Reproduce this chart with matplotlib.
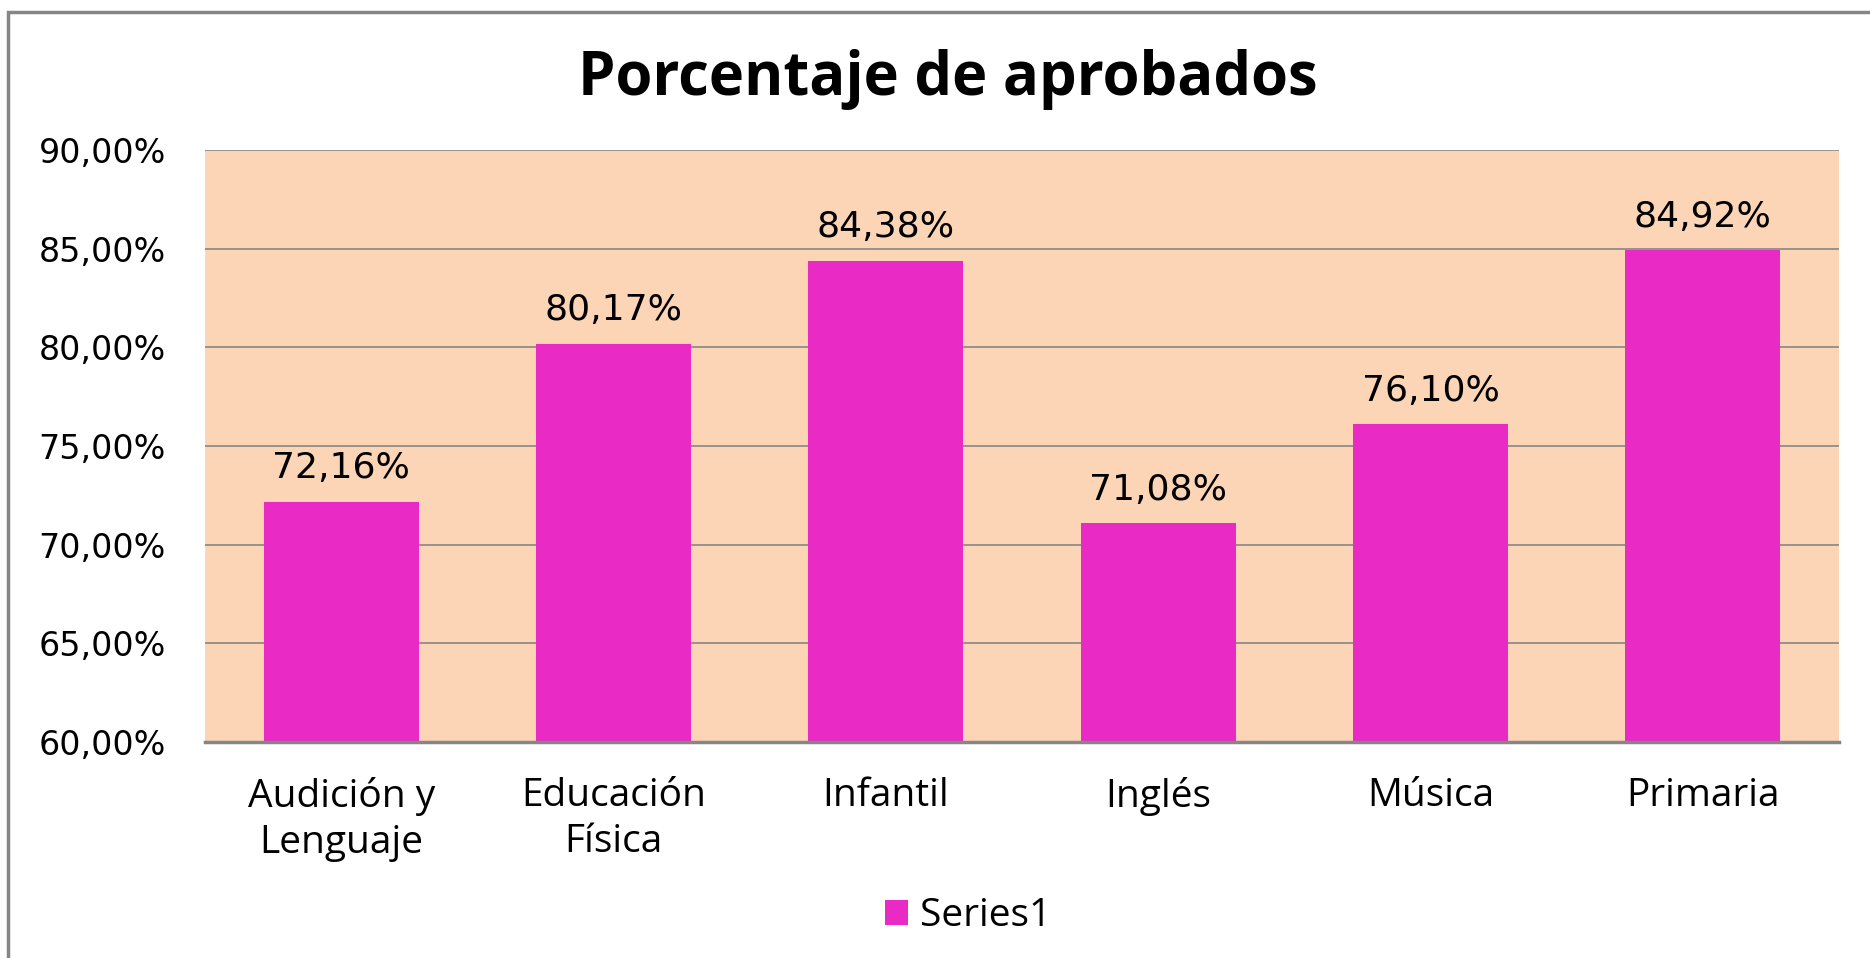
import matplotlib.pyplot as plt
from matplotlib.patches import Rectangle

categorias = ['Audición y\nLenguaje', 'Educación\nFísica', 'Infantil', 'Inglés', 'Música', 'Primaria']
aprobados = [72.16, 80.17, 84.38, 71.08, 76.10, 84.92]
ticks_y = [60, 65, 70, 75, 80, 85, 90]

W, H = 1870, 958
fig = plt.figure(figsize=(W / 100, H / 100), dpi=100)
fig.patch.set_facecolor('white')

# marco exterior del grafico (se sale por la derecha y abajo)
fig.patches.append(Rectangle((8 / W, -0.05), 1.2, 1 - 12 / H + 0.05, transform=fig.transFigure,
                             fill=False, edgecolor='#868686', linewidth=2.5))

ax = fig.add_axes([205 / W, (H - 742) / H, (1839 - 205) / W, (742 - 150) / H])
ax.set_facecolor('#FBD5B5')

x = range(len(categorias))
barras = ax.bar(x, aprobados, width=0.57, color='#EA2AC4', label='Series1', zorder=3)

ax.set_ylim(60, 90)
ax.set_xlim(-0.5, len(categorias) - 0.5)
ax.set_yticks(ticks_y)
ax.set_yticklabels([f'{v:.2f}%'.replace('.', ',') for v in ticks_y],
                   fontsize=24, family='DejaVu Sans')
ax.set_xticks(list(x))
ax.set_xticklabels(categorias, fontsize=28, family='Open Sans', linespacing=1.3)
ax.tick_params(axis='y', length=0, pad=28)
ax.tick_params(axis='x', length=0, pad=25)

ax.grid(axis='y', color='#868686', linewidth=1.2, zorder=1)
ax.set_axisbelow(True)
for lado in ['left', 'right', 'top']:
    ax.spines[lado].set_visible(False)
ax.spines['bottom'].set_color('#868686')
ax.spines['bottom'].set_linewidth(2.5)
ax.spines['bottom'].set_zorder(4)

for b, v in zip(barras, aprobados):
    ax.annotate(f'{v:.2f}%'.replace('.', ','), (b.get_x() + b.get_width() / 2, v),
                xytext=(0, 12), textcoords='offset points', ha='center', va='bottom',
                fontsize=26, family='DejaVu Sans')

fig.text(948 / W, 1 - 80 / H, 'Porcentaje de aprobados', ha='center', va='center',
         fontsize=43, fontweight='bold', family='Open Sans')

fig.legend(loc='center', bbox_to_anchor=(968 / W, 1 - 916 / H), frameon=False,
           prop={'family': 'Open Sans', 'size': 28}, handlelength=0.6, handleheight=0.6,
           handletextpad=0.3)

plt.savefig('out.png', dpi=100)
